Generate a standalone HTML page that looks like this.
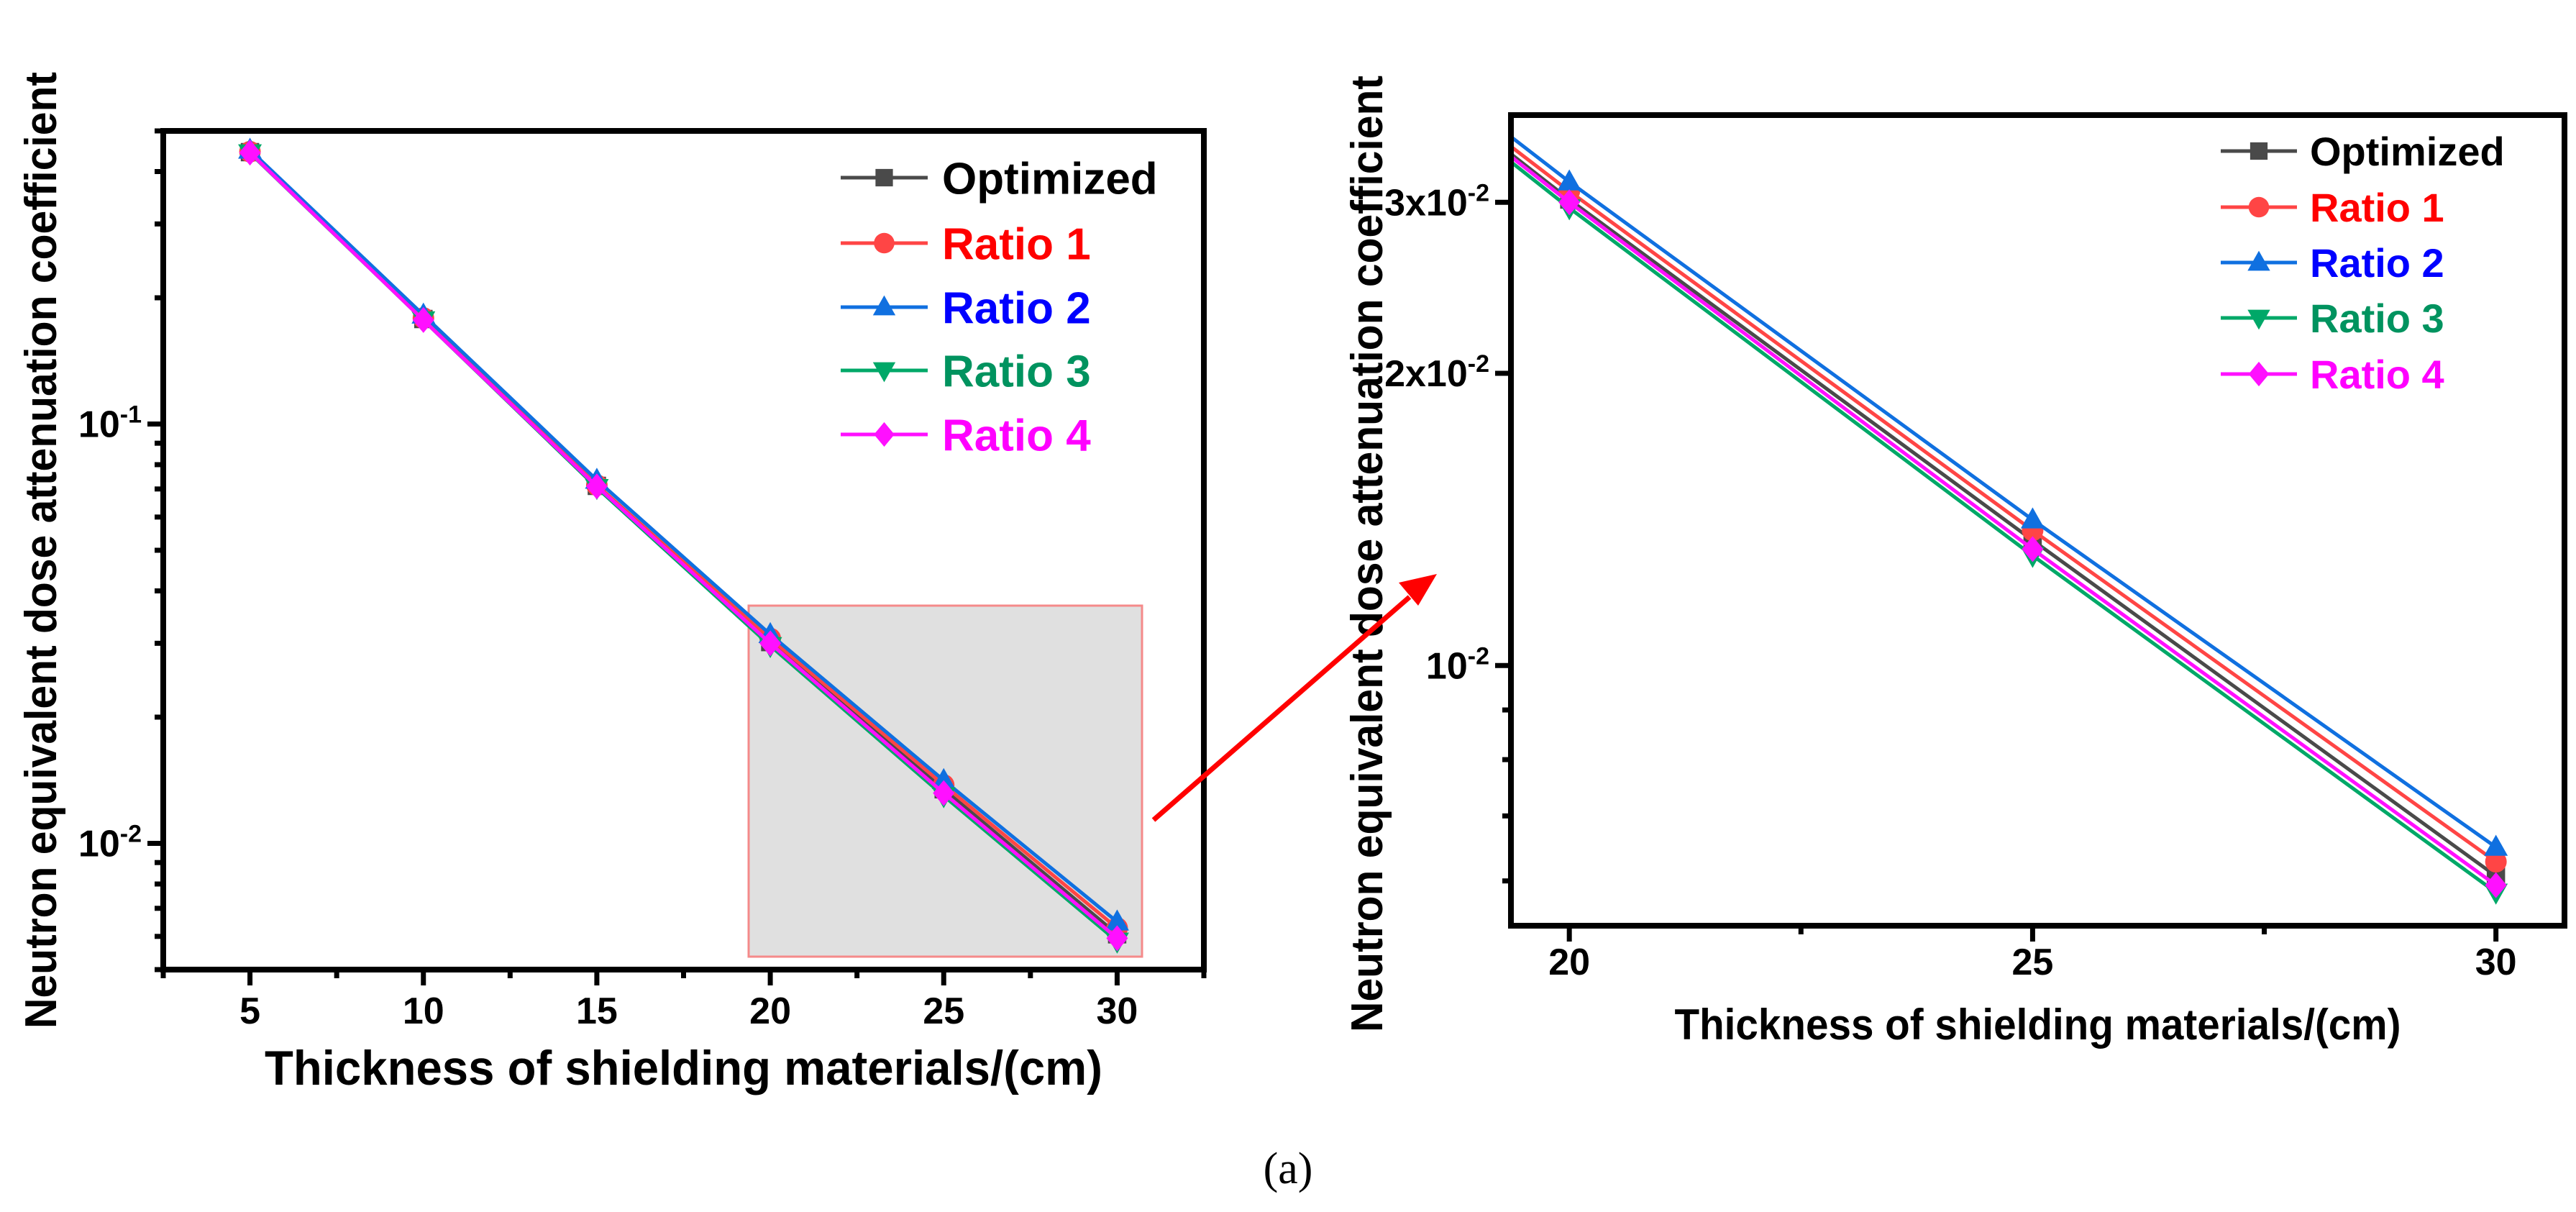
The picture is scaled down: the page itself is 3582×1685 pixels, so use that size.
<!DOCTYPE html>
<html><head><meta charset="utf-8"><style>
html,body{margin:0;padding:0;background:#fff;}
svg{display:block;font-family:"Liberation Sans",sans-serif;font-weight:bold;}
</style></head><body>
<svg id="fig" width="3582" height="1685" viewBox="0 0 3582 1685" xmlns="http://www.w3.org/2000/svg">
<g id="left"></g>
<g id="right"></g>
<text x="1791" y="1645" text-anchor="middle" font-family="Liberation Serif, serif" font-weight="normal" font-size="62">(a)</text>
</svg>
<script>
const thickness = [5, 10, 15, 20, 25, 30];
const seriesNames = ['Optimized', 'Ratio 1', 'Ratio 2', 'Ratio 3', 'Ratio 4'];
const optimizedVals = [0.445, 0.178, 0.0712, 0.0302, 0.01346, 0.00607];
const ratio1Vals = [0.446, 0.179, 0.0715, 0.0308, 0.01378, 0.00628];
const ratio2Vals = [0.450, 0.182, 0.0735, 0.0315, 0.01413, 0.00650];
const ratio3Vals = [0.443, 0.177, 0.0705, 0.0296, 0.01298, 0.00584];
const ratio4Vals = [0.444, 0.177, 0.0710, 0.0300, 0.01318, 0.00594];
const leftXTicks = [5, 10, 15, 20, 25, 30];
const rightXTicks = [20, 25, 30];
const leftYLabels = [[0.1, '10', '-1'], [0.01, '10', '-2']];
const rightYLabels = [[0.03, '3x10', '-2'], [0.02, '2x10', '-2'], [0.01, '10', '-2']];

const NS = 'http://www.w3.org/2000/svg';
const lineColors = ['#4a4a4a', '#ff4545', '#1070e0', '#00a868', '#ff10ff'];
const textColors = ['#000000', '#ff0000', '#0000ff', '#00935f', '#ff00ff'];
const shapes = ['square', 'circle', 'up', 'down', 'diamond'];
const allVals = [optimizedVals, ratio1Vals, ratio2Vals, ratio3Vals, ratio4Vals];

function mk(parent, tag, attrs) {
  const e = document.createElementNS(NS, tag);
  for (const k in attrs) e.setAttribute(k, attrs[k]);
  parent.appendChild(e);
  return e;
}
function marker(g, shape, cx, cy, r, color) {
  let e;
  if (shape === 'square') e = mk(g, 'rect', {x: cx - r * 0.85, y: cy - r * 0.85, width: r * 1.7, height: r * 1.7, fill: color});
  else if (shape === 'circle') e = mk(g, 'circle', {cx: cx, cy: cy, r: r, fill: color});
  else if (shape === 'up') e = mk(g, 'polygon', {points: `${cx},${cy - r * 1.15} ${cx + r * 1.1},${cy + r * 0.8} ${cx - r * 1.1},${cy + r * 0.8}`, fill: color});
  else if (shape === 'down') e = mk(g, 'polygon', {points: `${cx},${cy + r * 1.15} ${cx + r * 1.1},${cy - r * 0.8} ${cx - r * 1.1},${cy - r * 0.8}`, fill: color});
  else e = mk(g, 'polygon', {points: `${cx},${cy - r * 1.2} ${cx + r},${cy} ${cx},${cy + r * 1.2} ${cx - r},${cy}`, fill: color});
  return e;
}

function drawChart(g, cfg) {
  const X = v => cfg.x0 + (v - cfg.xmin) / (cfg.xmax - cfg.xmin) * (cfg.x1 - cfg.x0);
  const Y = v => cfg.y1 - (Math.log10(v) - cfg.lmin) / (cfg.lmax - cfg.lmin) * (cfg.y1 - cfg.y0);
  const clipId = cfg.id + '-clip';
  const defs = mk(g, 'defs', {});
  const cp = mk(defs, 'clipPath', {id: clipId});
  mk(cp, 'rect', {x: cfg.x0, y: cfg.y0, width: cfg.x1 - cfg.x0, height: cfg.y1 - cfg.y0});
  if (cfg.box) {
    const b = mk(g, 'rect', {x: cfg.box[0], y: cfg.box[1], width: cfg.box[2] - cfg.box[0], height: cfg.box[3] - cfg.box[1], fill: '#e0e0e0', stroke: '#f58a8a', 'stroke-width': 3});
    
    
  }
  const plot = mk(g, 'g', {'clip-path': `url(#${clipId})`});
  allVals.forEach((vals, s) => {
    const sg = mk(plot, 'g', {});
    
    
    const pts = thickness.map((t, i) => X(t) + ',' + Y(vals[i])).join(' ');
    const pl = mk(sg, 'polyline', {points: pts, fill: 'none', stroke: lineColors[s], 'stroke-width': cfg.lw});
    
    
    thickness.forEach((t, i) => {
      const m = marker(sg, shapes[s], X(t), Y(vals[i]), cfg.mr, lineColors[s]);
      
      
    });
  });
  const fr = mk(g, 'rect', {x: cfg.x0, y: cfg.y0, width: cfg.x1 - cfg.x0, height: cfg.y1 - cfg.y0, fill: 'none', stroke: '#000', 'stroke-width': 8});
  
  
  for (let v = Math.ceil(cfg.xmin / cfg.minorStep) * cfg.minorStep; v <= cfg.xmax; v += cfg.minorStep) {
    const major = cfg.xTicks.some(t => Math.abs(t - v) < 1e-6);
    mk(g, 'line', {x1: X(v), x2: X(v), y1: cfg.y1, y2: cfg.y1 + (major ? 22 : 12), stroke: '#000', 'stroke-width': 7});
  }
  cfg.xTicks.forEach(v => {
    const t = mk(g, 'text', {x: X(v), y: cfg.y1 + cfg.tickLabelDy, 'text-anchor': 'middle', 'font-size': 52});
    t.textContent = v;
    
    
  });
  for (let d = Math.floor(cfg.lmin); d <= Math.ceil(cfg.lmax); d++) {
    for (let k = 1; k <= 9; k++) {
      const v = k * Math.pow(10, d);
      const lv = Math.log10(v);
      if (lv < cfg.lmin - 1e-9 || lv > cfg.lmax + 1e-9) continue;
      const major = cfg.yLabels.some(l => Math.abs(l[0] - v) / v < 1e-6);
      mk(g, 'line', {x1: cfg.x0 - (major ? 22 : 12), x2: cfg.x0, y1: Y(v), y2: Y(v), stroke: '#000', 'stroke-width': 7});
    }
  }
  cfg.yLabels.forEach(l => {
    const t = mk(g, 'text', {x: cfg.x0 - 30, y: Y(l[0]) + 18, 'text-anchor': 'end', 'font-size': 52});
    
    
    const a = mk(t, 'tspan', {}); a.textContent = l[1];
    const b = mk(t, 'tspan', {dy: -20, 'font-size': 34}); b.textContent = l[2];
  });
  const xt = mk(g, 'text', {x: (cfg.x0 + cfg.x1) / 2, y: cfg.xTitleY, 'text-anchor': 'middle', 'font-size': cfg.xTitleSize, textLength: cfg.xTitleLen, lengthAdjust: 'spacingAndGlyphs'});
  xt.textContent = 'Thickness of shielding materials/(cm)';
  
  
  const yt = mk(g, 'text', {x: 0, y: 0, 'text-anchor': 'middle', 'font-size': 62, textLength: 1330, lengthAdjust: 'spacingAndGlyphs', transform: `translate(${cfg.yTitleX},${cfg.yTitleC}) rotate(-90)`});
  yt.textContent = 'Neutron equivalent dose attenuation coefficient';
  
  
  const lg = mk(g, 'g', {});
  
  
  seriesNames.forEach((n, s) => {
    const y = cfg.legY[s];
    const eg = mk(lg, 'g', {});
    
    
    mk(eg, 'line', {x1: cfg.legX[0], x2: cfg.legX[1], y1: y, y2: y, stroke: lineColors[s], 'stroke-width': 5});
    marker(eg, shapes[s], (cfg.legX[0] + cfg.legX[1]) / 2, y, cfg.mr * 0.95, lineColors[s]);
    const t = mk(eg, 'text', {x: cfg.legX[2], y: y + cfg.legFont * 0.36, 'font-size': cfg.legFont, fill: textColors[s]});
    t.textContent = n;
  });
}

drawChart(document.getElementById('left'), {
  id: 'left', x0: 227, x1: 1674, y0: 182, y1: 1348, xmin: 2.5, xmax: 32.5,
  lmin: Math.log10(0.005), lmax: Math.log10(0.5), xTicks: leftXTicks, minorStep: 2.5,
  yLabels: leftYLabels, lw: 5, mr: 15, tickLabelDy: 75,
  box: [1041, 842, 1588, 1330],
  xTitleY: 1508, xTitleSize: 68, xTitleLen: 1165, yTitleX: 78, yTitleC: 765,
  legX: [1169, 1290, 1310], legY: [247, 338, 427, 515, 604], legFont: 62
});
drawChart(document.getElementById('right'), {
  id: 'right', x0: 2101, x1: 3566, y0: 160, y1: 1287, xmin: 19.37, xmax: 30.74,
  lmin: -2.268, lmax: -1.433, xTicks: rightXTicks, minorStep: 2.5,
  yLabels: rightYLabels, lw: 5, mr: 15, tickLabelDy: 68,
  box: null,
  xTitleY: 1445, xTitleSize: 60, xTitleLen: 1010, yTitleX: 1922, yTitleC: 770,
  legX: [3088, 3194, 3212], legY: [210, 288, 365, 442, 520], legFont: 56
});

const fig = document.getElementById('fig');
const arrow = mk(fig, 'g', {});


mk(arrow, 'line', {x1: 1604, y1: 1140, x2: 1960, y2: 830, stroke: '#ff0000', 'stroke-width': 7});
mk(arrow, 'polygon', {points: '1998,798 1945,810 1972,842', fill: '#ff0000'});
</script>
</body></html>
